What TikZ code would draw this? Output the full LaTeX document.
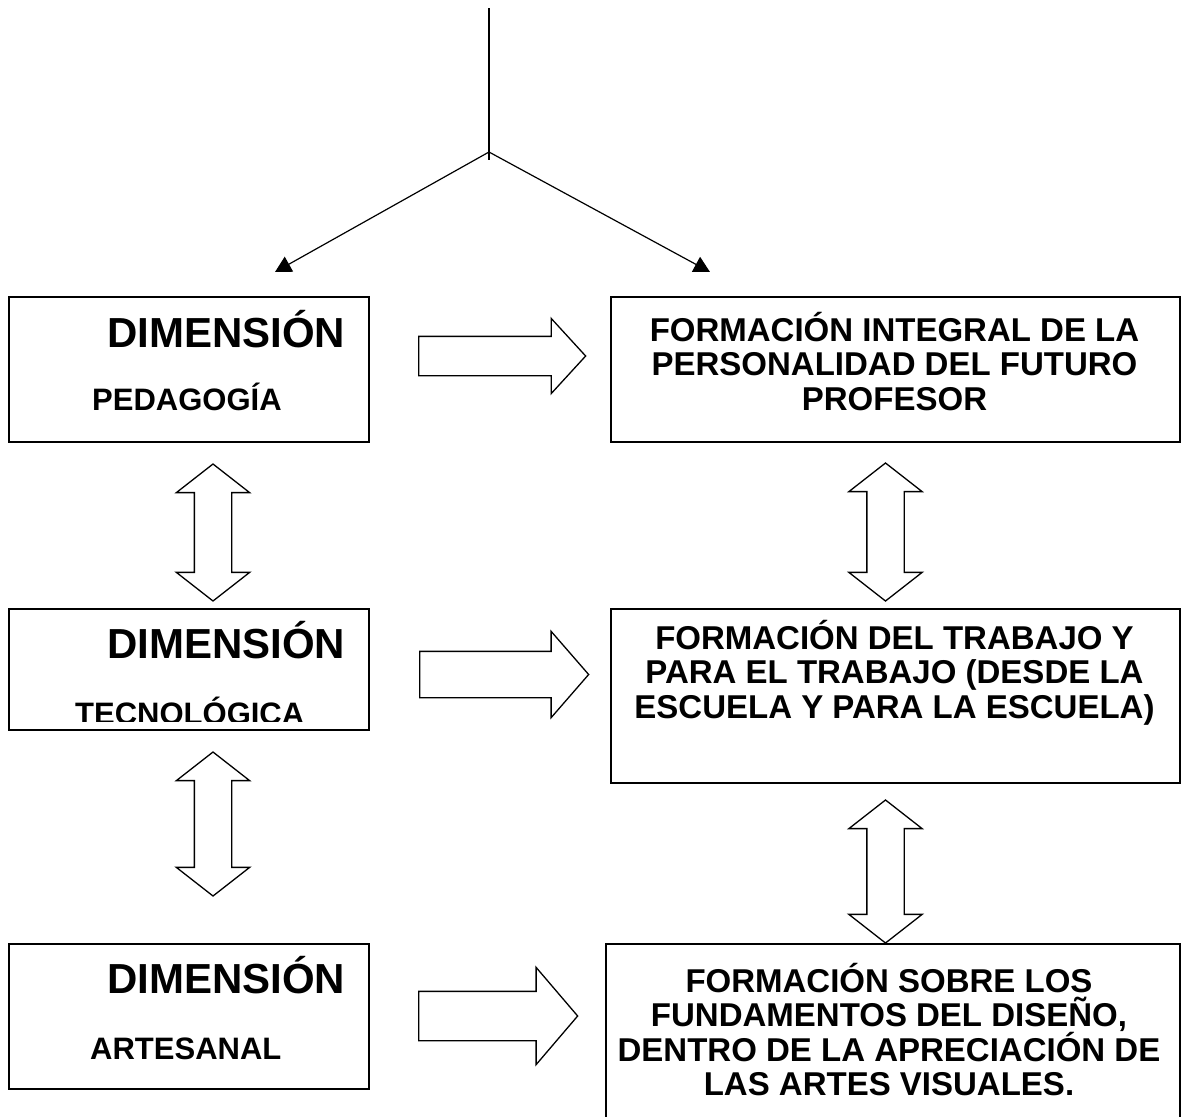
\documentclass[tikz,border=0pt]{standalone}
\usepackage{fontspec}
\setmainfont{Liberation Sans}
\usetikzlibrary{arrows.meta,shapes.arrows}

\tikzset{
  box/.style={draw, rectangle, line width=1.7pt, anchor=north west, inner sep=0pt},
  fatarrow/.style={draw, single arrow, line width=1.3pt, inner xsep=0pt, minimum width=0pt, anchor=tail},
  twinarrow/.style={draw, double arrow, rotate=90, line width=1.3pt, inner xsep=0pt, minimum width=0pt,
    inner ysep=18pt, double arrow head extend=18pt, double arrow tip angle=104},
  dimtext/.style={anchor=base west, inner sep=0pt, font=\bfseries\fontsize{42}{42}\selectfont},
  subtext/.style={anchor=base west, inner sep=0pt, font=\bfseries\fontsize{31}{31}\selectfont},
  goaltext/.style={align=center, inner sep=0pt, anchor=north, font=\bfseries\fontsize{33}{34.5}\selectfont},
}

\begin{document}
\begin{tikzpicture}[x=1pt, y=-1pt]
  \useasboundingbox (0,0) rectangle (1184,1117);
  \clip (0,0) rectangle (1184,1117);

  % dimensiones
  \node[box, minimum width=360pt, minimum height=145pt] (ped) at (8,296) {};
  \node[box, minimum width=360pt, minimum height=121pt] (tec) at (8,608) {};
  \node[box, minimum width=360pt, minimum height=145pt] (art) at (8,943) {};

  \node[dimtext] (pedt) at (107,347) {DIMENSIÓN};
  \node[subtext] (pedn) at (92,410) {PEDAGOGÍA};
  \node[dimtext] (tect) at (107,658) {DIMENSIÓN};
  \begin{scope}
    \clip (tec.north west) rectangle ([yshift=9pt]tec.south east);
    \node[subtext] (tecn) at (75,724) {TECNOLÓGICA};
  \end{scope}
  \node[dimtext] (artt) at (107,993) {DIMENSIÓN};
  \node[subtext] (artn) at (90,1059) {ARTESANAL};

  % formaciones
  \node[box, minimum width=569pt, minimum height=145pt] (inte) at (610,296) {};
  \node[box, minimum width=569pt, minimum height=174pt] (trab) at (610,608) {};
  \node[box, minimum width=574pt, minimum height=200pt] (dise) at (605,943) {};

  \node[goaltext] (intet) at (894.5,312) {FORMACIÓN INTEGRAL DE LA\\PERSONALIDAD DEL FUTURO\\PROFESOR};
  \node[goaltext] (trabt) at (894.5,620) {FORMACIÓN DEL TRABAJO Y\\PARA EL TRABAJO (DESDE LA\\ESCUELA Y PARA LA ESCUELA)};
  \node[goaltext] (diset) at (889,963) {FORMACIÓN SOBRE LOS\\FUNDAMENTOS DEL DISEÑO,\\DENTRO DE LA APRECIACIÓN DE\\LAS ARTES VISUALES.};

  % flechas gruesas
  \node[fatarrow, minimum height=167pt, inner ysep=19pt, single arrow head extend=18pt,
    single arrow tip angle=95] (a1) at (418,356) {};
  \node[fatarrow, minimum height=169pt, inner ysep=22.5pt, single arrow head extend=20pt,
    single arrow tip angle=98] (a2) at (419,674.5) {};
  \node[fatarrow, minimum height=159pt, inner ysep=24pt, single arrow head extend=24pt,
    single arrow tip angle=99] (a3) at (418,1016) {};

  \node[twinarrow, minimum height=137pt] (d1) at (213,532.5) {};
  \node[twinarrow, minimum height=144pt] (d2) at (213,824) {};
  \node[twinarrow, minimum height=138pt] (d3) at (885.5,532) {};
  \node[twinarrow, minimum height=143pt] (d4) at (885.5,871.5) {};

  % tronco superior
  \coordinate (top) at (489,8);
  \coordinate (stem) at (489,160);
  \coordinate (fork) at (489,152);
  \coordinate (lt) at (275,272);
  \coordinate (rt) at (710,272);
  \draw[line width=1.2pt] (top) -- (stem);
  \draw[line width=1.2pt, -{Triangle[length=16pt,width=17pt]}] (fork) -- (lt);
  \draw[line width=1.2pt, -{Triangle[length=16pt,width=17pt]}] (fork) -- (rt);
\end{tikzpicture}
\end{document}
